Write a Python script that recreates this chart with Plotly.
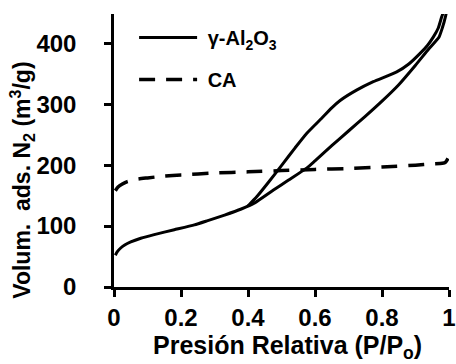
import plotly.graph_objects as go

# gamma-Al2O3 adsorption branch
ads_p = [0.004, 0.01, 0.02, 0.032, 0.05, 0.08, 0.12, 0.18, 0.24, 0.28, 0.33, 0.38, 0.42,
         0.476, 0.52, 0.575, 0.6, 0.65, 0.7, 0.75, 0.8, 0.85, 0.9, 0.94, 0.97, 0.98, 0.99, 0.997]
ads_v = [52, 58, 64, 69, 74, 80, 86, 94, 102, 109, 118, 128, 138,
         159, 175, 195, 207, 232, 256, 280, 305, 332, 364, 391, 410, 425, 445, 465]
# gamma-Al2O3 desorption branch
des_p = [0.40, 0.426, 0.46, 0.505, 0.54, 0.575, 0.62, 0.65, 0.675, 0.724, 0.774, 0.844,
         0.88, 0.913, 0.935, 0.953, 0.968, 0.978, 0.988, 0.995]
des_v = [133, 148, 171, 203, 228, 252, 277, 294, 306, 323, 337, 353,
         366, 383, 396, 410, 425, 443, 458, 470]
# CA isotherm
ca_p = [0.004, 0.012, 0.025, 0.04, 0.07, 0.1, 0.15, 0.2, 0.3, 0.4, 0.5, 0.6, 0.7, 0.8,
        0.9, 0.95, 0.98, 0.99, 0.997]
ca_v = [158, 164, 169, 173, 177, 179, 182, 184, 187, 189, 191, 193, 194.5, 197,
        200, 202, 203, 205, 211]

x_ticks = [0, 0.2, 0.4, 0.6, 0.8, 1]
x_ticktext = ["0", "0.2", "0.4", "0.6", "0.8", "1"]
y_ticks = [0, 100, 200, 300, 400]

FONT = "Arial, Liberation Sans, sans-serif"

fig = go.Figure()
fig.add_trace(go.Scatter(x=ads_p, y=ads_v, mode="lines", name="\u00a0γ-Al<sub>2</sub>O<sub>3</sub>",
                         legendgroup="a", line=dict(color="black", width=3, shape="spline", smoothing=0.5)))
fig.add_trace(go.Scatter(x=des_p, y=des_v, mode="lines", name="γ-Al2O3 des", showlegend=False,
                         legendgroup="a", line=dict(color="black", width=3, shape="spline", smoothing=0.5)))
fig.add_trace(go.Scatter(x=ca_p, y=ca_v, mode="lines", name="\u00a0CA", legendgroup="b",
                         line=dict(color="black", width=3.5, dash="16px,11px", shape="spline", smoothing=0.5)))

fig.update_layout(
    width=456, height=364,
    margin=dict(l=114, r=7, t=14, b=77),
    plot_bgcolor="white", paper_bgcolor="white",
    font=dict(family=FONT, size=22, color="black", weight="bold"),
    showlegend=True,
    legend=dict(x=0.06, y=0.985, xanchor="left", yanchor="top", bgcolor="rgba(0,0,0,0)",
                font=dict(family=FONT, size=20, color="black", weight="bold"),
                itemwidth=58, tracegroupgap=13),
    xaxis=dict(range=[0, 1], tickvals=x_ticks, ticktext=x_ticktext, showgrid=False, zeroline=False,
               automargin=False,
               showline=True, linecolor="black", linewidth=2.5, ticks="outside", ticklen=7,
               tickwidth=2.5, tickcolor="black",
               tickfont=dict(family=FONT, size=24, weight="bold")),
    yaxis=dict(range=[0, 448], tickvals=y_ticks, showgrid=False, zeroline=False,
               automargin=False,
               showline=True, linecolor="black", linewidth=2.5, ticks="outside", ticklen=7,
               tickwidth=2.5, tickcolor="black", ticklabelstandoff=23,
               tickfont=dict(family=FONT, size=24, weight="bold")),
    annotations=[
        dict(text="Volum.\u00a0\u00a0ads. N<sub>2</sub> (m<sup>3</sup>/g)", textangle=-90,
             xref="paper", yref="paper", x=-0.277, y=0.39,
             xanchor="center", yanchor="middle", showarrow=False,
             font=dict(family=FONT, size=23, weight="bold", color="black")),
        dict(text="Presión Relativa (P/P<sub>o</sub>)",
             xref="paper", yref="paper", x=0.519, y=-0.218,
             xanchor="center", yanchor="middle", showarrow=False,
             font=dict(family=FONT, size=25, weight="bold", color="black")),
    ],
)

fig.write_html("out.html", post_script="document.body.style.margin='0';",
               config={"displayModeBar": False})
